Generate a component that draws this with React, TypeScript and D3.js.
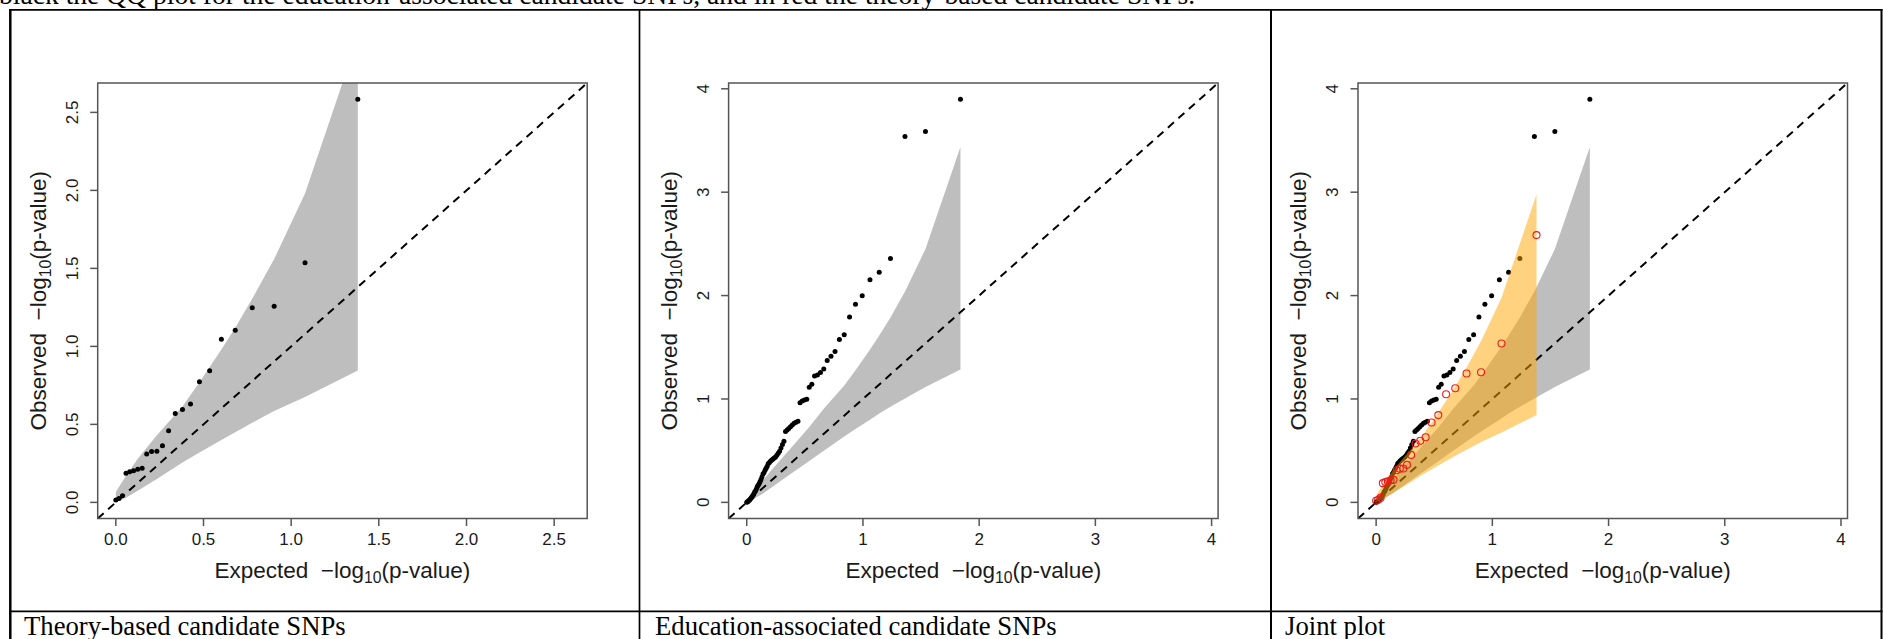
import React from "react";
import * as d3 from "d3";

// ---------- data ----------
const topText =
  "black the QQ plot for the education-associated candidate SNPs, and in red the theory-based candidate SNPs.";
const captions = ["Theory-based candidate SNPs", "Education-associated candidate SNPs", "Joint plot"];

// Theory-based candidate SNPs (n = 24)
const theoryExpected = [1.380, 1.079, 0.903, 0.778, 0.681, 0.602, 0.535, 0.477, 0.426, 0.380, 0.339, 0.301,
  0.266, 0.234, 0.204, 0.176, 0.150, 0.125, 0.101, 0.079, 0.058, 0.038, 0.018, 0.000];
const theoryObserved = [2.585, 1.536, 1.258, 1.247, 1.104, 1.045, 0.844, 0.773, 0.630, 0.596, 0.570, 0.459,
  0.363, 0.328, 0.326, 0.310, 0.218, 0.213, 0.203, 0.196, 0.186, 0.043, 0.025, 0.015];
const theoryBandX = [1.380, 1.079, 0.903, 0.778, 0.681, 0.602, 0.477, 0.380, 0.234, 0.125, 0.058, 0.000];
const theoryBandUpper = [2.978, 1.98, 1.56, 1.305, 1.12, 0.98, 0.77, 0.615, 0.43, 0.28, 0.17, 0.066];
const theoryBandLower = [0.845, 0.675, 0.585, 0.51, 0.45, 0.40, 0.32, 0.255, 0.15, 0.075, 0.03, 0.0005];

// Education-associated candidate SNPs (n = 69)
const eduExpected = [1.8389, 1.5378, 1.3617, 1.2368, 1.1399, 1.0607, 0.9938, 0.9358, 0.8846, 0.8389,
  0.7975, 0.7597, 0.7249, 0.6927, 0.6628, 0.6347, 0.6084, 0.5836, 0.5601, 0.5378,
  0.5166, 0.4964, 0.4771, 0.4586, 0.4409, 0.4239, 0.4075, 0.3917, 0.3765, 0.3617,
  0.3475, 0.3337, 0.3203, 0.3074, 0.2948, 0.2826, 0.2707, 0.2591, 0.2478, 0.2368,
  0.2261, 0.2156, 0.2054, 0.1954, 0.1856, 0.1761, 0.1668, 0.1576, 0.1487, 0.1399,
  0.1313, 0.1228, 0.1146, 0.1065, 0.0985, 0.0907, 0.0830, 0.0754, 0.0680, 0.0607,
  0.0535, 0.0465, 0.0395, 0.0327, 0.0259, 0.0193, 0.0128, 0.0063, 0.0];
const eduObserved = [3.900, 3.588, 3.539, 2.358, 2.226, 2.152, 1.998, 1.916, 1.794, 1.622,
  1.575, 1.458, 1.413, 1.371, 1.290, 1.255, 1.232, 1.223, 1.142, 1.113,
  0.997, 0.990, 0.981, 0.964, 0.784, 0.776, 0.765, 0.748, 0.732, 0.715,
  0.700, 0.685, 0.590, 0.560, 0.525, 0.495, 0.475, 0.455, 0.440, 0.430,
  0.420, 0.410, 0.400, 0.385, 0.375, 0.350, 0.330, 0.310, 0.290, 0.275,
  0.245, 0.220, 0.200, 0.180, 0.165, 0.150, 0.130, 0.110, 0.100, 0.080,
  0.070, 0.055, 0.045, 0.035, 0.025, 0.018, 0.012, 0.006, 0.002];
const eduBandX = [1.839, 1.538, 1.362, 1.237, 1.140, 1.061, 0.936, 0.839, 0.663, 0.538, 0.362, 0.237, 0.140, 0.061, 0.026, 0.0];
const eduBandUpper = [3.436, 2.450, 2.039, 1.789, 1.613, 1.478, 1.278, 1.131, 0.905, 0.730, 0.502, 0.341, 0.216, 0.115, 0.066, 0.023];
const eduBandLower = [1.284, 1.115, 1.005, 0.925, 0.86, 0.80, 0.71, 0.637, 0.50, 0.40, 0.262, 0.163, 0.087, 0.032, 0.009, 0.0002];

const theoryTicks = [0, 0.5, 1, 1.5, 2, 2.5];
const eduTicks = [0, 1, 2, 3, 4];

// ---------- layout ----------
const W = 1883;
const H = 639;
const PLOT_TOP = 83;
const PLOT_BOTTOM = 518.5;
const PLOT_W = 489.5;
const panelLefts = [97.7, 728.6, 1358];
const SANS = "'Liberation Sans', Arial, Helvetica, sans-serif";
const SERIF = "'Liberation Serif', 'Times New Roman', Times, serif";
const AXIS_COL = "#555";
const TEXT_COL = "#1a1a1a";
const TICK_FONT = 17;
const TITLE_FONT = 22.5;

type Layer =
  | { kind: "band"; xs: number[]; lo: number[]; hi: number[]; fill: string; opacity: number }
  | { kind: "diag" }
  | { kind: "points"; xs: number[]; ys: number[]; open?: boolean };

function AxisTitle({ main, x, y, rotate }: { main: string; x: number; y: number; rotate?: boolean }) {
  return (
    <text
      transform={`translate(${x},${y})${rotate ? " rotate(-90)" : ""}`}
      textAnchor="middle"
      fontFamily={SANS}
      fontSize={TITLE_FONT}
      fill={TEXT_COL}
    >
      {main + "\u00A0\u00A0\u2212log"}
      <tspan fontSize={TITLE_FONT * 0.7} dy={5}>10</tspan>
      <tspan dy={-5}>(p-value)</tspan>
    </text>
  );
}

function Panel({ id, left, maxVal, ticks, fmt, layers }: {
  id: string; left: number; maxVal: number; ticks: number[]; fmt: (v: number) => string; layers: Layer[];
}) {
  const dom: [number, number] = [-0.04 * maxVal, 1.04 * maxVal];
  const x = d3.scaleLinear().domain(dom).range([left, left + PLOT_W]);
  const y = d3.scaleLinear().domain(dom).range([PLOT_BOTTOM, PLOT_TOP]);
  const line = d3.line<[number, number]>().x((d) => x(d[0])).y((d) => y(d[1]));
  const cx = left + PLOT_W / 2;
  const cy = (PLOT_TOP + PLOT_BOTTOM) / 2;

  return (
    <g>
      <defs>
        <clipPath id={id}>
          <rect x={left} y={PLOT_TOP} width={PLOT_W} height={PLOT_BOTTOM - PLOT_TOP} />
        </clipPath>
      </defs>
      <g clipPath={`url(#${id})`}>
        {layers.map((L, k) => {
          if (L.kind === "band") {
            const pts: [number, number][] = L.xs.map((v, i) => [v, L.hi[i]] as [number, number])
              .concat(L.xs.map((v, i) => [v, L.lo[i]] as [number, number]).reverse());
            return <path key={k} d={line(pts) + "Z"} fill={L.fill} fillOpacity={L.opacity} stroke="none" />;
          }
          if (L.kind === "diag") {
            return (
              <line key={k} x1={x(dom[0])} y1={y(dom[0])} x2={x(dom[1])} y2={y(dom[1])}
                stroke="#000" strokeWidth={2} strokeDasharray="8 6" />
            );
          }
          return (
            <g key={k}>
              {L.xs.map((v, i) =>
                L.open ? (
                  <circle key={i} cx={x(v)} cy={y(L.ys[i])} r={3.5} fill="none" stroke="#ee1c1c" strokeWidth={1.1} />
                ) : (
                  <circle key={i} cx={x(v)} cy={y(L.ys[i])} r={2.5} fill="#000" />
                )
              )}
            </g>
          );
        })}
      </g>
      {/* box */}
      <rect x={left} y={PLOT_TOP} width={PLOT_W} height={PLOT_BOTTOM - PLOT_TOP}
        fill="none" stroke={AXIS_COL} strokeWidth={1.5} />
      {/* x axis */}
      {ticks.map((t) => (
        <g key={"x" + t}>
          <line x1={x(t)} x2={x(t)} y1={PLOT_BOTTOM} y2={PLOT_BOTTOM + 7.5} stroke={AXIS_COL} strokeWidth={1.5} />
          <text x={x(t)} y={545} textAnchor="middle" fontFamily={SANS} fontSize={TICK_FONT} fill={TEXT_COL}>{fmt(t)}</text>
        </g>
      ))}
      {/* y axis */}
      {ticks.map((t) => (
        <g key={"y" + t}>
          <line x1={left - 7.5} x2={left} y1={y(t)} y2={y(t)} stroke={AXIS_COL} strokeWidth={1.5} />
          <text transform={`translate(${left - 20},${y(t)}) rotate(-90)`} textAnchor="middle"
            fontFamily={SANS} fontSize={TICK_FONT} fill={TEXT_COL}>{fmt(t)}</text>
        </g>
      ))}
      <AxisTitle main="Expected" x={cx} y={578} />
      <AxisTitle main="Observed" x={left - 52} y={cy} rotate />
    </g>
  );
}

export default function App() {
  const theoryMax = d3.max(theoryObserved) as number;
  const eduMax = d3.max(eduObserved) as number;
  const f1 = d3.format(".1f");
  const f0 = d3.format("d");
  const gray = "#bebebe";

  const p1: Layer[] = [
    { kind: "band", xs: theoryBandX, lo: theoryBandLower, hi: theoryBandUpper, fill: gray, opacity: 1 },
    { kind: "diag" },
    { kind: "points", xs: theoryExpected, ys: theoryObserved },
  ];
  const p2: Layer[] = [
    { kind: "band", xs: eduBandX, lo: eduBandLower, hi: eduBandUpper, fill: gray, opacity: 1 },
    { kind: "diag" },
    { kind: "points", xs: eduExpected, ys: eduObserved },
  ];
  const p3: Layer[] = [
    { kind: "band", xs: eduBandX, lo: eduBandLower, hi: eduBandUpper, fill: gray, opacity: 1 },
    { kind: "diag" },
    { kind: "points", xs: eduExpected, ys: eduObserved },
    { kind: "band", xs: theoryBandX, lo: theoryBandLower, hi: theoryBandUpper, fill: "#ffa500", opacity: 0.5 },
    { kind: "points", xs: theoryExpected, ys: theoryObserved, open: true },
  ];

  const captionX = [24, 655, 1285];

  return (
    <svg width={W} height={H} viewBox={`0 0 ${W} ${H}`}
      style={{ position: "absolute", left: 0, top: 0, background: "#fff" }}>
      <rect x={0} y={0} width={W} height={H} fill="#fff" />
      <text x={-1} y={4} fontFamily={SERIF} fontSize={27.6} fill="#000">{topText}</text>

      {/* table borders */}
      <line x1={9} x2={1882.5} y1={9.8} y2={9.8} stroke="#000" strokeWidth={1.7} />
      <line x1={10.3} x2={10.3} y1={9} y2={H} stroke="#000" strokeWidth={2.5} />
      <line x1={639.5} x2={639.5} y1={9} y2={H} stroke="#000" strokeWidth={1.7} />
      <line x1={1271} x2={1271} y1={9} y2={H} stroke="#000" strokeWidth={2} />
      <line x1={1881.5} x2={1881.5} y1={9} y2={H} stroke="#000" strokeWidth={2} />
      <line x1={9} x2={1882.5} y1={611.3} y2={611.3} stroke="#000" strokeWidth={1.7} />

      <Panel id="c1" left={panelLefts[0]} maxVal={theoryMax} ticks={theoryTicks} fmt={f1} layers={p1} />
      <Panel id="c2" left={panelLefts[1]} maxVal={eduMax} ticks={eduTicks} fmt={f0} layers={p2} />
      <Panel id="c3" left={panelLefts[2]} maxVal={eduMax} ticks={eduTicks} fmt={f0} layers={p3} />

      {captions.map((c, i) => (
        <text key={c} x={captionX[i]} y={635} fontFamily={SERIF} fontSize={26.7} fill="#000">{c}</text>
      ))}
    </svg>
  );
}
